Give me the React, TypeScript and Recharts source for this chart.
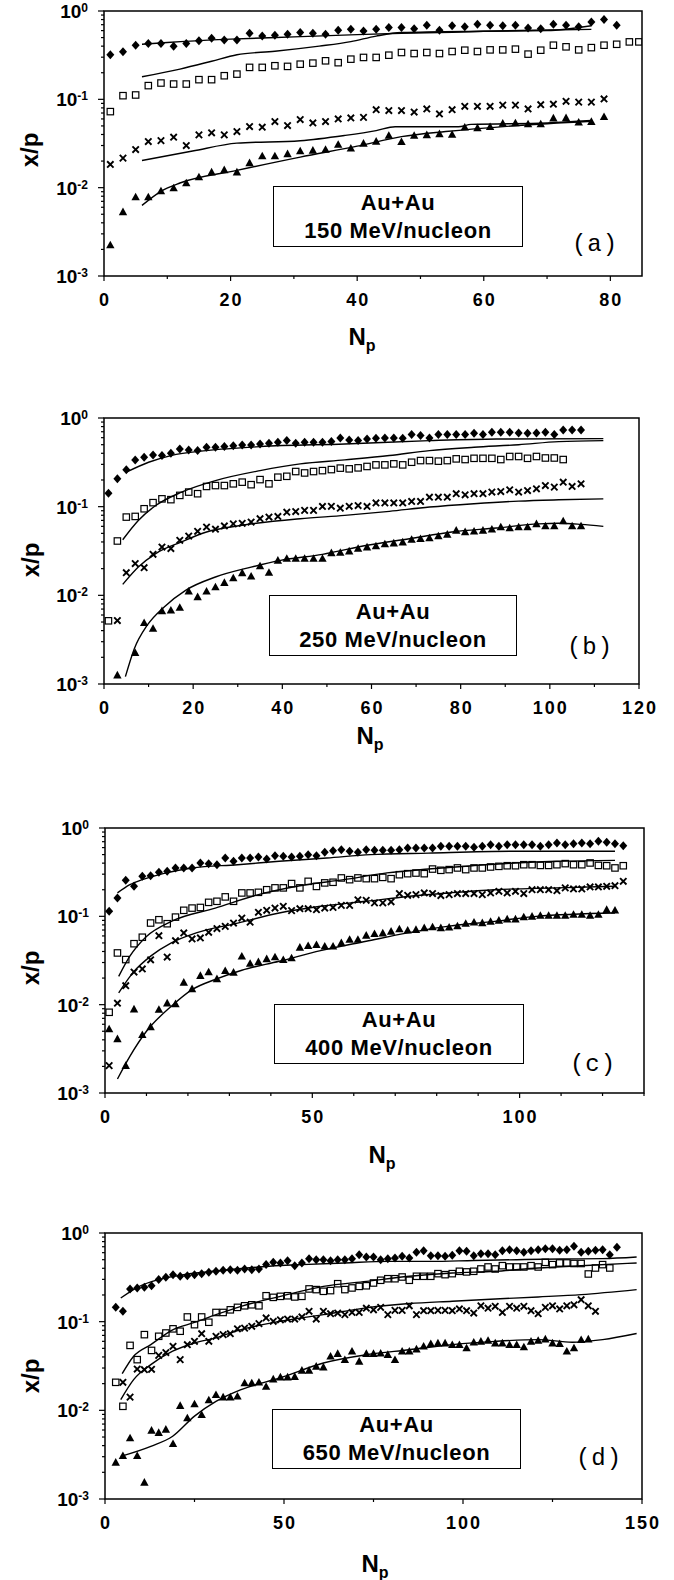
import React from 'react';
import { ComposedChart, Scatter, Line, XAxis, YAxis, ReferenceArea } from 'recharts';

// x/p of four fragment classes vs proton multiplicity N_p, Au+Au at four energies.
// Markers: diamonds, open squares, crosses, triangles; solid lines are model curves.

const FONT = '"Liberation Sans", Arial, Helvetica, sans-serif';

const yTicks = [
  0.001, 0.002, 0.003, 0.004, 0.005, 0.006, 0.007, 0.008, 0.009,
  0.01, 0.02, 0.03, 0.04, 0.05, 0.06, 0.07, 0.08, 0.09,
  0.1, 0.2, 0.3, 0.4, 0.5, 0.6, 0.7, 0.8, 0.9, 1,
];

// ---------- panel (a) 150 MeV/nucleon ----------
const nA = [1, 3, 5, 7, 9, 11, 13, 15, 17, 19, 21, 23, 25, 27, 29, 31, 33, 35, 37, 39, 41, 43, 45, 47, 49, 51, 53, 55, 57, 59, 61, 63, 65, 67, 69, 71, 73, 75, 77, 79, 81, 83, 84.5];
const diamondA = [0.32, 0.345, 0.41, 0.43, 0.43, 0.40, 0.43, 0.46, 0.49, 0.47, 0.47, 0.56, 0.52, 0.53, 0.545, 0.57, 0.56, 0.545, 0.605, 0.62, 0.595, 0.62, 0.65, 0.65, 0.63, 0.69, 0.605, 0.68, 0.665, 0.71, 0.69, 0.68, 0.69, 0.64, 0.63, 0.71, 0.69, 0.665, 0.75, 0.80, 0.69, null, null];
const squareA = [0.0726, 0.11, 0.112, 0.143, 0.153, 0.149, 0.149, 0.167, 0.167, 0.185, 0.193, 0.23, 0.23, 0.24, 0.236, 0.25, 0.257, 0.273, 0.26, 0.285, 0.298, 0.298, 0.316, 0.339, 0.33, 0.339, 0.33, 0.348, 0.36, 0.348, 0.363, 0.363, 0.37, 0.325, 0.36, 0.41, 0.393, 0.363, 0.385, 0.41, 0.42, 0.447, 0.447];
const crossA = [0.0183, 0.0216, 0.027, 0.0333, 0.0341, 0.0373, 0.030, 0.0396, 0.0418, 0.0396, 0.0432, 0.0492, 0.0484, 0.056, 0.0505, 0.059, 0.054, 0.056, 0.060, 0.0615, 0.0625, 0.0764, 0.0746, 0.0746, 0.0717, 0.0778, 0.0683, 0.0764, 0.0834, 0.0834, 0.0834, 0.086, 0.086, 0.0778, 0.087, 0.088, 0.095, 0.093, 0.093, 0.101, null, null, null];
const triangleA = [0.00224, 0.00532, 0.00785, 0.00785, 0.00917, 0.0099, 0.0113, 0.0132, 0.015, 0.0159, 0.015, 0.0191, 0.0228, 0.0228, 0.0241, 0.026, 0.0264, 0.027, 0.0308, 0.0279, 0.0317, 0.0334, 0.0389, 0.0331, 0.0389, 0.0396, 0.0406, 0.040, 0.0483, 0.0475, 0.049, 0.0535, 0.054, 0.0525, 0.0525, 0.0612, 0.0617, 0.055, 0.056, 0.0635, null, null, null];
const fitA1 = [[6, 0.42], [10, 0.44], [20, 0.48], [30, 0.51], [40, 0.54], [47, 0.56], [55, 0.575], [60, 0.59], [70, 0.61], [77, 0.62]];
const fitA2 = [[6, 0.18], [12, 0.22], [17, 0.27], [21, 0.32], [27, 0.35], [34, 0.4], [39, 0.45], [43, 0.52], [47, 0.57], [60, 0.59], [70, 0.6], [77, 0.68]];
const fitA3 = [[6, 0.0203], [14, 0.026], [21, 0.0319], [31, 0.034], [38, 0.039], [43, 0.0443], [46, 0.049], [56, 0.049], [58, 0.052], [70, 0.054], [77, 0.0575]];
const fitA4 = [[6, 0.0063], [9, 0.0091], [12, 0.0113], [21, 0.0157], [31, 0.0222], [40, 0.0295], [47, 0.0378], [54, 0.0432], [65, 0.0503], [77, 0.0565]];

// ---------- panel (b) 250 MeV/nucleon ----------
const nB = [1, 3, 5, 7, 9, 11, 13, 15, 17, 19, 21, 23, 25, 27, 29, 31, 33, 35, 37, 39, 41, 43, 45, 47, 49, 51, 53, 55, 57, 59, 61, 63, 65, 67, 69, 71, 73, 75, 77, 79, 81, 83, 85, 87, 89, 91, 93, 95, 97, 99, 101, 103, 105, 107];
const diamondB = [0.142, 0.206, 0.26, 0.337, 0.361, 0.383, 0.377, 0.40, 0.448, 0.437, 0.429, 0.468, 0.468, 0.476, 0.488, 0.497, 0.497, 0.51, 0.52, 0.532, 0.556, 0.52, 0.532, 0.532, 0.532, 0.542, 0.596, 0.566, 0.556, 0.58, 0.59, 0.596, 0.596, 0.59, 0.65, 0.633, 0.596, 0.65, 0.65, 0.65, 0.65, 0.672, 0.65, 0.69, 0.69, 0.69, 0.678, 0.672, 0.678, 0.69, 0.65, 0.733, 0.733, 0.733];
const squareB = [0.00516, 0.041, 0.0763, 0.0776, 0.0947, 0.111, 0.1225, 0.12, 0.134, 0.146, 0.14, 0.169, 0.173, 0.173, 0.181, 0.189, 0.177, 0.202, 0.181, 0.215, 0.22, 0.249, 0.24, 0.249, 0.255, 0.262, 0.272, 0.267, 0.274, 0.284, 0.296, 0.296, 0.304, 0.296, 0.317, 0.331, 0.331, 0.326, 0.331, 0.346, 0.34, 0.351, 0.351, 0.351, 0.34, 0.368, 0.368, 0.351, 0.368, 0.354, 0.354, 0.34, null, null];
const crossB = [null, 0.0052, 0.018, 0.0228, 0.0205, 0.029, 0.035, 0.0337, 0.0418, 0.0466, 0.0528, 0.0589, 0.0557, 0.0606, 0.064, 0.065, 0.067, 0.0731, 0.0763, 0.0776, 0.0867, 0.088, 0.0908, 0.0908, 0.1005, 0.101, 0.096, 0.101, 0.103, 0.1005, 0.11, 0.11, 0.11, 0.11, 0.1146, 0.1146, 0.128, 0.128, 0.128, 0.14, 0.136, 0.14, 0.14, 0.146, 0.148, 0.155, 0.146, 0.152, 0.159, 0.173, 0.166, 0.189, 0.169, 0.181];
const triangleB = [null, 0.00126, null, 0.00225, 0.0049, 0.00423, 0.00668, 0.0068, 0.0073, 0.0111, 0.0096, 0.0111, 0.0124, 0.0139, 0.0157, 0.0179, 0.0164, 0.0214, 0.0181, 0.0248, 0.026, 0.026, 0.026, 0.026, 0.026, 0.0301, 0.0304, 0.0315, 0.0337, 0.035, 0.036, 0.038, 0.0388, 0.0398, 0.0427, 0.0435, 0.0443, 0.0466, 0.0487, 0.054, 0.052, 0.0528, 0.054, 0.0557, 0.059, 0.0574, 0.059, 0.059, 0.064, 0.0606, 0.0606, 0.069, 0.0606, 0.0606];
const fitB1 = [[5, 0.245], [10, 0.317], [15, 0.377], [23, 0.429], [35, 0.476], [54, 0.51], [73, 0.556], [88, 0.58], [112, 0.585]];
const fitB2 = [[4.2, 0.0424], [7.7, 0.07], [11.6, 0.103], [17.4, 0.146], [25, 0.197], [35, 0.255], [44, 0.304], [54, 0.337], [64, 0.377], [73, 0.429], [83, 0.468], [93, 0.5], [102, 0.542], [112, 0.556]];
const fitB3 = [[4.2, 0.0133], [7.7, 0.0209], [11.6, 0.0296], [17.4, 0.0401], [23, 0.0518], [31, 0.0617], [44, 0.0731], [54, 0.0797], [64, 0.0886], [73, 0.099], [83, 0.108], [93, 0.1156], [102, 0.1195], [112, 0.1225]];
const fitB4 = [[4.8, 0.00121], [6.8, 0.0025], [9.7, 0.0046], [13.5, 0.0074], [18.3, 0.0114], [25, 0.0161], [33, 0.0208], [39.6, 0.0248], [49, 0.029], [59, 0.0367], [68.5, 0.0435], [78, 0.0518], [88, 0.0574], [97.5, 0.064], [102, 0.065], [107, 0.0631], [112, 0.06]];

// ---------- panel (c) 400 MeV/nucleon ----------
const nC = [1, 3, 5, 7, 9, 11, 13, 15, 17, 19, 21, 23, 25, 27, 29, 31, 33, 35, 37, 39, 41, 43, 45, 47, 49, 51, 53, 55, 57, 59, 61, 63, 65, 67, 69, 71, 73, 75, 77, 79, 81, 83, 85, 87, 89, 91, 93, 95, 97, 99, 101, 103, 105, 107, 109, 111, 113, 115, 117, 119, 121, 123, 125];
const diamondC = [0.114, 0.161, 0.256, 0.219, 0.284, 0.288, 0.315, 0.323, 0.353, 0.353, 0.353, 0.402, 0.395, 0.384, 0.457, 0.42, 0.457, 0.457, 0.47, 0.446, 0.486, 0.478, 0.47, 0.478, 0.499, 0.486, 0.53, 0.554, 0.569, 0.545, 0.53, 0.569, 0.56, 0.56, 0.56, 0.569, 0.594, 0.594, 0.594, 0.594, 0.62, 0.62, 0.62, 0.62, 0.604, 0.62, 0.648, 0.62, 0.648, 0.648, 0.648, 0.648, 0.62, 0.648, 0.676, 0.648, 0.665, 0.676, 0.665, 0.706, 0.688, 0.665, 0.631];
const squareC = [0.0082, 0.0385, 0.0324, 0.049, 0.058, 0.084, 0.0915, 0.0825, 0.098, 0.117, 0.124, 0.126, 0.144, 0.148, 0.166, 0.148, 0.184, 0.184, 0.187, 0.2, 0.21, 0.21, 0.235, 0.21, 0.249, 0.218, 0.239, 0.243, 0.272, 0.26, 0.272, 0.267, 0.267, 0.276, 0.267, 0.296, 0.304, 0.309, 0.304, 0.343, 0.332, 0.338, 0.353, 0.338, 0.353, 0.353, 0.362, 0.368, 0.374, 0.374, 0.384, 0.384, 0.377, 0.377, 0.384, 0.395, 0.384, 0.384, 0.402, 0.377, 0.374, 0.353, 0.374];
const crossC = [0.00204, 0.0104, 0.0164, 0.0234, 0.0254, 0.0322, 0.0604, 0.0346, 0.053, 0.0649, 0.0554, 0.0569, 0.066, 0.0727, 0.077, 0.0839, 0.0957, 0.0858, 0.111, 0.117, 0.124, 0.13, 0.116, 0.122, 0.122, 0.119, 0.124, 0.126, 0.133, 0.133, 0.154, 0.152, 0.142, 0.142, 0.146, 0.181, 0.173, 0.176, 0.184, 0.181, 0.172, 0.176, 0.181, 0.181, 0.181, 0.176, 0.184, 0.192, 0.184, 0.192, 0.181, 0.2, 0.2, 0.2, 0.195, 0.21, 0.204, 0.204, 0.215, 0.215, 0.219, 0.222, 0.249];
const triangleC = [0.0053, 0.0041, 0.00204, 0.0089, 0.00457, 0.0056, 0.0088, 0.0104, 0.0102, 0.0179, 0.0151, 0.0213, 0.0234, 0.0196, 0.0242, 0.0232, 0.0353, 0.0292, 0.0305, 0.033, 0.0346, 0.0322, 0.0337, 0.0445, 0.0464, 0.0477, 0.0458, 0.0458, 0.05, 0.0546, 0.0546, 0.0608, 0.0635, 0.0645, 0.0675, 0.0718, 0.0695, 0.0707, 0.074, 0.0757, 0.074, 0.0752, 0.0776, 0.0829, 0.0858, 0.0844, 0.0874, 0.0899, 0.093, 0.093, 0.0984, 0.1, 0.102, 0.102, 0.102, 0.102, 0.105, 0.105, 0.102, 0.105, 0.119, 0.117, null];
const fitC1 = [[3, 0.184], [6, 0.228], [9, 0.26], [14, 0.304], [21, 0.353], [32, 0.384], [42, 0.42], [53.5, 0.457], [64, 0.499], [78, 0.52], [99, 0.545], [123, 0.545]];
const fitC2 = [[3.3, 0.0209], [6, 0.0354], [10, 0.0592], [16, 0.0877], [26.6, 0.124], [37, 0.176], [47, 0.222], [57.6, 0.26], [68, 0.31], [78, 0.343], [88.6, 0.374], [99, 0.402], [109, 0.42], [123, 0.43]];
const fitC3 = [[3.3, 0.0136], [7, 0.0238], [11, 0.0354], [16, 0.0501], [22, 0.0649], [32, 0.0839], [42, 0.109], [52, 0.13], [63, 0.148], [73, 0.168], [83, 0.184], [94, 0.2], [109, 0.21], [123, 0.219]];
const fitC4 = [[3, 0.00144], [6, 0.0026], [10, 0.005], [16, 0.0096], [21, 0.0148], [26.6, 0.0193], [33, 0.0245], [42, 0.031], [52, 0.0409], [63, 0.0522], [73, 0.0649], [83, 0.0774], [94, 0.0877], [104, 0.1], [123, 0.109]];

// ---------- panel (d) 650 MeV/nucleon ----------
const nD = [3, 5, 7, 9, 11, 13, 15, 17, 19, 21, 23, 25, 27, 29, 31, 33, 35, 37, 39, 41, 43, 45, 47, 49, 51, 53, 55, 57, 59, 61, 63, 65, 67, 69, 71, 73, 75, 77, 79, 81, 83, 85, 87, 89, 91, 93, 95, 97, 99, 101, 103, 105, 107, 109, 111, 113, 115, 117, 119, 121, 123, 125, 127, 129, 131, 133, 135, 137, 139, 141, 143];
const diamondD = [0.145, 0.131, 0.234, 0.24, 0.244, 0.254, 0.298, 0.316, 0.339, 0.325, 0.33, 0.339, 0.348, 0.36, 0.37, 0.38, 0.386, 0.38, 0.393, 0.386, 0.393, 0.44, 0.467, 0.459, 0.487, 0.428, 0.459, 0.514, 0.5, 0.5, 0.487, 0.5, 0.5, 0.514, 0.57, 0.536, 0.536, 0.5, 0.514, 0.523, 0.545, 0.523, 0.605, 0.632, 0.555, 0.555, 0.545, 0.56, 0.632, 0.621, 0.555, 0.585, 0.585, 0.57, 0.632, 0.649, 0.632, 0.605, 0.632, 0.649, 0.666, 0.666, 0.638, 0.649, 0.707, 0.605, 0.621, 0.638, 0.649, 0.57, 0.69];
const squareD = [0.0207, 0.0111, 0.054, 0.0373, 0.0714, 0.0474, 0.0684, 0.0745, 0.083, 0.078, 0.113, 0.0925, 0.113, 0.0985, 0.127, 0.127, 0.136, 0.145, 0.151, 0.155, 0.151, 0.196, 0.188, 0.193, 0.196, 0.19, 0.193, 0.234, 0.23, 0.22, 0.224, 0.268, 0.23, 0.24, 0.25, 0.254, 0.273, 0.293, 0.305, 0.305, 0.319, 0.293, 0.325, 0.325, 0.325, 0.348, 0.339, 0.348, 0.37, 0.364, 0.37, 0.393, 0.414, 0.393, 0.428, 0.414, 0.414, 0.414, 0.428, 0.414, 0.467, 0.44, 0.459, 0.459, 0.453, 0.453, 0.345, 0.403, 0.44, 0.403, null];
const crossD = [null, 0.0207, 0.0141, 0.0292, 0.0287, 0.029, 0.0417, 0.0448, 0.0527, 0.0373, 0.055, 0.0601, 0.0732, 0.0601, 0.0684, 0.0714, 0.0732, 0.083, 0.0845, 0.0886, 0.095, 0.11, 0.101, 0.105, 0.107, 0.107, 0.113, 0.131, 0.107, 0.131, 0.123, 0.125, 0.12, 0.127, 0.127, 0.142, 0.136, 0.145, 0.12, 0.134, 0.134, 0.151, 0.12, 0.133, 0.133, 0.134, 0.134, 0.133, 0.139, 0.133, 0.125, 0.151, 0.142, 0.149, 0.127, 0.149, 0.142, 0.149, 0.133, 0.123, 0.145, 0.151, 0.139, 0.151, 0.155, 0.177, 0.151, 0.131, null, null, null];
const triangleD = [0.00259, 0.00308, 0.00487, 0.00308, 0.00154, 0.00595, 0.0056, 0.0061, 0.0042, 0.0113, 0.0082, 0.0118, 0.0089, 0.0131, 0.015, 0.0141, 0.0141, 0.0144, 0.0203, 0.0203, 0.0207, 0.0186, 0.0225, 0.0237, 0.0237, 0.024, 0.0282, 0.0282, 0.0313, 0.0307, 0.0408, 0.0436, 0.0372, 0.0464, 0.0357, 0.0436, 0.0436, 0.044, 0.0425, 0.0372, 0.0464, 0.0464, 0.049, 0.0529, 0.0564, 0.0573, 0.0573, 0.055, 0.055, 0.0504, 0.0586, 0.06, 0.0612, 0.0573, 0.0573, 0.055, 0.055, 0.0517, 0.06, 0.0612, 0.0636, 0.0573, 0.0564, 0.0464, 0.0504, 0.0625, 0.0636, null, null, null, null];
const fitD1 = [[4.4, 0.185], [9.2, 0.246], [15, 0.298], [22, 0.339], [33, 0.38], [43, 0.414], [55, 0.44], [67, 0.459], [79, 0.479], [91, 0.479], [103, 0.49], [115, 0.5], [127, 0.509], [139, 0.514], [148.5, 0.536]];
const fitD2 = [[4.8, 0.0259], [8, 0.0407], [12.8, 0.0551], [18.9, 0.081], [25, 0.098], [31, 0.12], [38, 0.149], [49, 0.193], [61, 0.25], [73, 0.285], [85, 0.325], [97, 0.354], [109, 0.37], [121, 0.403], [133, 0.428], [148.5, 0.459]];
const fitD3 = [[4.4, 0.0132], [8, 0.0222], [12.8, 0.0328], [18.9, 0.0464], [25, 0.0575], [31, 0.0657], [38, 0.0813], [49, 0.101], [61, 0.12], [73, 0.143], [85, 0.16], [97, 0.17], [109, 0.18], [121, 0.19], [133, 0.202], [148.5, 0.23]];
const fitD4 = [[4.4, 0.00303], [12.8, 0.00393], [18.9, 0.0051], [25, 0.0086], [31, 0.0126], [38, 0.0171], [49, 0.0233], [61, 0.0342], [73, 0.0424], [85, 0.0482], [97, 0.0551], [109, 0.06], [121, 0.0627], [130.5, 0.0587], [139, 0.0627], [148.5, 0.0735]];

const xTicksA = [0, 10, 20, 30, 40, 50, 60, 70, 80];
const xTicksB = [0, 10, 20, 30, 40, 50, 60, 70, 80, 90, 100, 110, 120];
const xTicksC = [0, 10, 20, 30, 40, 50, 60, 70, 80, 90, 100, 110, 120, 130];
const xTicksD = [0, 25, 50, 75, 100, 125, 150];

const pts = (n: number[], v: (number | null)[]) =>
  n.map((x, i) => ({ x, y: v[i] })).filter((p) => p.y != null);
const curve = (f: number[][]) => f.map(([x, y]) => ({ x, y }));

const DiamondDot = ({ cx, cy }: any) => (
  <path d={`M${cx},${cy - 4.5}L${cx + 4},${cy}L${cx},${cy + 4.5}L${cx - 4},${cy}Z`} fill="#000" />
);
const SquareDot = ({ cx, cy }: any) => (
  <rect x={cx - 3.2} y={cy - 3.2} width={6.4} height={6.4} fill="none" stroke="#000" strokeWidth={1.2} />
);
const CrossDot = ({ cx, cy }: any) => (
  <path d={`M${cx - 3.2},${cy - 3.2}L${cx + 3.2},${cy + 3.2}M${cx + 3.2},${cy - 3.2}L${cx - 3.2},${cy + 3.2}`} stroke="#000" strokeWidth={1.9} />
);
const TriangleDot = ({ cx, cy }: any) => (
  <path d={`M${cx},${cy - 4.3}L${cx + 4.2},${cy + 3.3}L${cx - 4.2},${cy + 3.3}Z`} fill="#000" />
);

function YTick(props: any) {
  const { x, y, payload } = props;
  const v = payload.value;
  const axisX = x + 8;
  const exp = Math.round(Math.log10(v));
  const major = Math.abs(v - Math.pow(10, exp)) < 1e-9;
  return (
    <g>
      <line x1={axisX - (major ? 6 : 3)} x2={axisX} y1={y} y2={y} stroke="#000" strokeWidth={1.2} />
      {major && (
        <text x={axisX - 16} y={y} textAnchor="end" fontFamily={FONT} fontWeight="bold" fill="#000">
          <tspan fontSize={19} dy="0.36em">10</tspan>
          <tspan fontSize={12} dy={-6}>{exp}</tspan>
        </text>
      )}
    </g>
  );
}

const makeXTick = (step: number) => (props: any) => {
  const { x, y, payload } = props;
  const v = payload.value;
  const major = v % step === 0;
  const axisY = y - 8;
  return (
    <g>
      <line x1={x} x2={x} y1={axisY} y2={axisY + (major ? 5 : 3)} stroke="#000" strokeWidth={1.2} />
      {major && (
        <text x={x + 1} y={axisY + 24} dy="0.36em" textAnchor="middle" fontFamily={FONT} fontWeight="bold" fontSize={18} letterSpacing={2} fill="#000">
          {v}
        </text>
      )}
    </g>
  );
};

interface PanelProps {
  top: number; left: number; right: number; plotH: number; xMax: number;
  xTicks: number[]; labelStep: number; n: number[];
  diamond: (number | null)[]; square: (number | null)[]; cross: (number | null)[]; triangle: (number | null)[];
  fits: number[][][];
}

function Panel(p: PanelProps) {
  const W = 674;
  const TOP = 22;
  const H = TOP + p.plotH + 40;
  return (
    <div style={{ position: 'absolute', left: 0, top: p.top - TOP, width: W, height: H }}>
      <ComposedChart width={W} height={H} margin={{ top: TOP, right: W - p.right, bottom: 0, left: 0 }}>
        <XAxis dataKey="x" type="number" domain={[0, p.xMax]} allowDataOverflow ticks={p.xTicks} interval={0}
          tick={makeXTick(p.labelStep)} tickLine={false} axisLine={false} tickSize={6} tickMargin={2} height={40} />
        <YAxis type="number" scale="log" domain={[0.001, 1]} allowDataOverflow ticks={yTicks} interval={0}
          tick={<YTick />} tickLine={false} axisLine={false} tickSize={6} tickMargin={2} width={p.left} />
        <ReferenceArea x1={0} x2={p.xMax} y1={0.001} y2={1} fill="none" stroke="#000" strokeWidth={1.5} />
        {p.fits.map((f, i) => (
          <Line key={i} data={curve(f)} dataKey="y" type="monotone" stroke="#000" strokeWidth={1.4} dot={false} activeDot={false} isAnimationActive={false} />
        ))}
        <Scatter data={pts(p.n, p.square)} dataKey="y" shape={<SquareDot />} isAnimationActive={false} />
        <Scatter data={pts(p.n, p.cross)} dataKey="y" shape={<CrossDot />} isAnimationActive={false} />
        <Scatter data={pts(p.n, p.triangle)} dataKey="y" shape={<TriangleDot />} isAnimationActive={false} />
        <Scatter data={pts(p.n, p.diamond)} dataKey="y" shape={<DiamondDot />} isAnimationActive={false} />
      </ComposedChart>
    </div>
  );
}

function InfoBox({ x, y, w, h, energy }: { x: number; y: number; w: number; h: number; energy: string }) {
  return (
    <div style={{
      position: 'absolute', left: x, top: y, width: w, height: h, boxSizing: 'border-box',
      border: '1.5px solid #000', background: '#fff', display: 'flex', flexDirection: 'column',
      justifyContent: 'center', alignItems: 'center', fontFamily: FONT, fontWeight: 'bold',
      fontSize: 22, lineHeight: '28px', letterSpacing: 0.6, color: '#000',
    }}>
      <div>Au+Au</div>
      <div>{energy} MeV/nucleon</div>
    </div>
  );
}

const Tag = ({ cx, cy, t }: { cx: number; cy: number; t: string }) => (
  <div style={{ position: 'absolute', left: cx - 35, top: cy - 15, width: 70, height: 30, lineHeight: '30px', textAlign: 'center', fontFamily: '"Liberation Mono", monospace', fontSize: 24, letterSpacing: 1, color: '#000' }}>{t}</div>
);

const YTitle = ({ cx, cy }: { cx: number; cy: number }) => (
  <div style={{ position: 'absolute', left: cx - 40, top: cy - 15, width: 80, height: 30, lineHeight: '30px', textAlign: 'center', transform: 'rotate(-90deg)', fontFamily: FONT, fontWeight: 'bold', fontSize: 24, color: '#000' }}>x/p</div>
);

const XTitle = ({ cx, cy }: { cx: number; cy: number }) => (
  <div style={{ position: 'absolute', left: cx - 40, top: cy - 15, width: 80, height: 30, lineHeight: '30px', textAlign: 'center', fontFamily: FONT, fontWeight: 'bold', fontSize: 24, color: '#000' }}>
    N<span style={{ fontSize: 16, position: 'relative', top: 6 }}>p</span>
  </div>
);

export default function App() {
  return (
    <div style={{ position: 'absolute', left: 0, top: 0, width: 674, height: 1580, background: '#fff', overflow: 'hidden' }}>
      <Panel top={11} left={104} right={642} plotH={265} xMax={85} xTicks={xTicksA} labelStep={20} n={nA}
        diamond={diamondA} square={squareA} cross={crossA} triangle={triangleA} fits={[fitA1, fitA2, fitA3, fitA4]} />
      <Panel top={418} left={104} right={639} plotH={266} xMax={120} xTicks={xTicksB} labelStep={20} n={nB}
        diamond={diamondB} square={squareB} cross={crossB} triangle={triangleB} fits={[fitB1, fitB2, fitB3, fitB4]} />
      <Panel top={828} left={105} right={644} plotH={265} xMax={130} xTicks={xTicksC} labelStep={50} n={nC}
        diamond={diamondC} square={squareC} cross={crossC} triangle={triangleC} fits={[fitC1, fitC2, fitC3, fitC4]} />
      <Panel top={1233} left={105} right={642} plotH={266} xMax={150} xTicks={xTicksD} labelStep={50} n={nD}
        diamond={diamondD} square={squareD} cross={crossD} triangle={triangleD} fits={[fitD1, fitD2, fitD3, fitD4]} />

      <InfoBox x={273} y={186} w={250} h={61} energy="150" />
      <InfoBox x={269} y={595} w={248} h={61} energy="250" />
      <InfoBox x={274} y={1004} w={250} h={60} energy="400" />
      <InfoBox x={272} y={1409} w={249} h={60} energy="650" />

      <Tag cx={595} cy={245} t="(a)" />
      <Tag cx={590} cy={648} t="(b)" />
      <Tag cx={593} cy={1065} t="(c)" />
      <Tag cx={599} cy={1459} t="(d)" />

      <YTitle cx={30} cy={150} />
      <YTitle cx={31} cy={560} />
      <YTitle cx={31} cy={968} />
      <YTitle cx={31} cy={1376} />

      <XTitle cx={362} cy={337} />
      <XTitle cx={370} cy={736} />
      <XTitle cx={382} cy={1155} />
      <XTitle cx={375} cy={1564} />
    </div>
  );
}
